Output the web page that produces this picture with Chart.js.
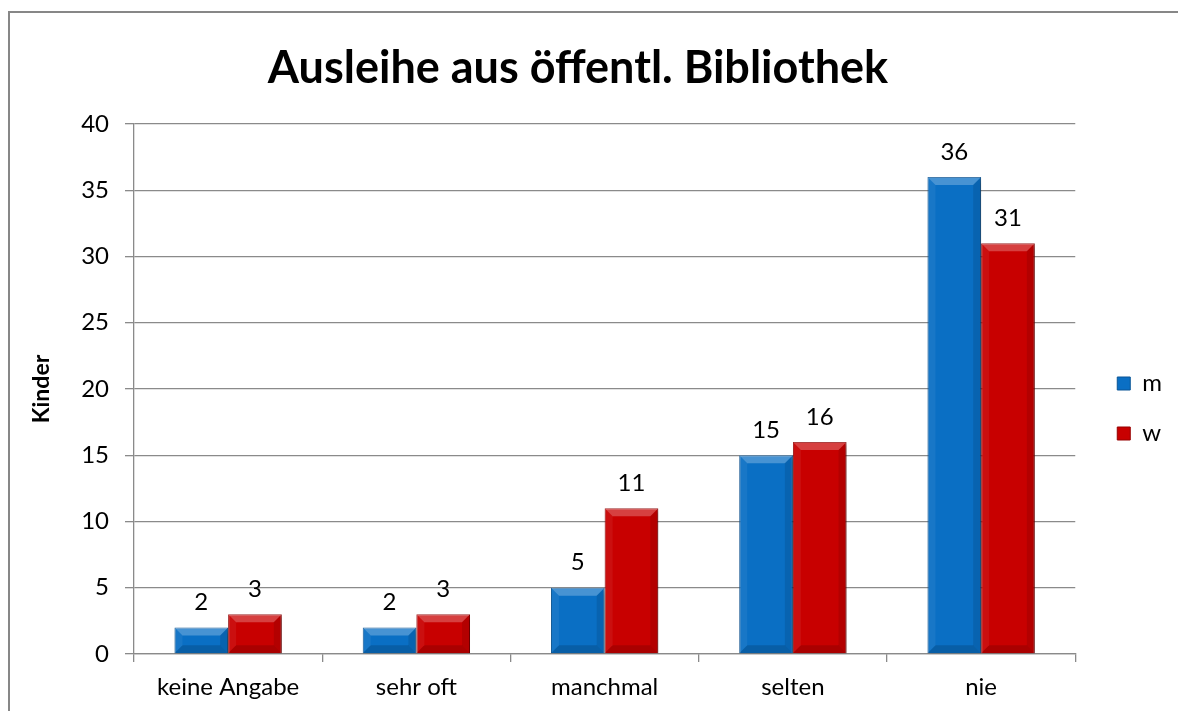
<!DOCTYPE html>
<html lang="de">
<head>
    <meta charset="UTF-8">
    <title>Ausleihe aus öffentl. Bibliothek</title>
    <script src="https://cdn.jsdelivr.net/npm/chart.js@4.4.0/dist/chart.umd.min.js"></script>
    <style>
        body {
            margin: 0;
            width: 1178px;
            height: 711px;
            overflow: hidden;
            background: #ffffff;
            position: relative;
        }
        .frame {
            position: absolute;
            left: 8px;
            top: 11px;
            width: 1300px;
            height: 900px;
            border: 2px solid #878787;
        }
        .chart-box {
            position: absolute;
            left: 0;
            top: 0;
            width: 1178px;
            height: 711px;
        }
    </style>
</head>
<body>
    <div class="frame"></div>
    <div class="chart-box"><canvas id="chart"></canvas></div>

    <script>
        // Data
        const categories = ['keine Angabe', 'sehr oft', 'manchmal', 'selten', 'nie'];
        const valuesM = [2, 2, 5, 15, 36];
        const valuesW = [3, 3, 11, 16, 31];
        const seriesNames = ['m', 'w'];
        const yTicks = [0, 5, 10, 15, 20, 25, 30, 35, 40];

        const FONT = 'Lato, "Open Sans", sans-serif';
        const GRID = '#8a8a8a';

        // bar shadow
        const shadowPlugin = {
            id: 'barShadow',
            beforeDatasetsDraw(chart) {
                const ctx = chart.ctx;
                ctx.save();
                ctx.shadowColor = 'rgba(0,0,0,0.35)';
                ctx.shadowBlur = 5;
                ctx.shadowOffsetX = 2;
                ctx.shadowOffsetY = 2;
            },
            afterDatasetsDraw(chart) {
                chart.ctx.restore();
            }
        };

        // bevel look + value labels
        const bevelPlugin = {
            id: 'bevel',
            afterDatasetsDraw(chart) {
                const ctx = chart.ctx;
                ctx.save();
                chart.data.datasets.forEach((ds, di) => {
                    const meta = chart.getDatasetMeta(di);
                    meta.data.forEach((bar, i) => {
                        const p = bar.getProps(['x', 'y', 'base', 'width'], true);
                        const l = p.x - p.width / 2, r = p.x + p.width / 2;
                        const t = p.y, b = p.base;
                        const bv = Math.min(8, (b - t) / 3);
                        const poly = (pts, fill) => {
                            ctx.beginPath();
                            ctx.moveTo(pts[0][0], pts[0][1]);
                            pts.slice(1).forEach(q => ctx.lineTo(q[0], q[1]));
                            ctx.closePath();
                            ctx.fillStyle = fill;
                            ctx.fill();
                        };
                        poly([[l, t], [r, t], [r - bv, t + bv], [l + bv, t + bv]], 'rgba(255,255,255,0.25)');
                        poly([[l, t], [l + bv, t + bv], [l + bv, b - bv], [l, b]], 'rgba(255,255,255,0.06)');
                        poly([[r, t], [r - bv, t + bv], [r - bv, b - bv], [r, b]], 'rgba(0,0,0,0.10)');
                        poly([[l, b], [l + bv, b - bv], [r - bv, b - bv], [r, b]], 'rgba(0,0,0,0.15)');

                        // value label
                        ctx.fillStyle = '#000';
                        ctx.font = '24px ' + FONT;
                        ctx.textAlign = 'center';
                        ctx.textBaseline = 'middle';
                        ctx.fillText(String(ds.data[i]), p.x, t - 25);
                    });
                });
                ctx.restore();
            }
        };

        // nudge the legend to the right and down
        const legendNudge = {
            id: 'legendNudge',
            afterLayout(chart) {
                chart.legend.left += 16;
                chart.legend.right += 16;
                chart.legend.top += 53;
                chart.legend.bottom += 53;
            }
        };

        new Chart(document.getElementById('chart'), {
            type: 'bar',
            data: {
                labels: categories,
                datasets: [
                    {
                        label: seriesNames[0],
                        data: valuesM,
                        backgroundColor: '#0a6fc4',
                        borderColor: '#0a5596',
                        borderWidth: 1
                    },
                    {
                        label: seriesNames[1],
                        data: valuesW,
                        backgroundColor: '#c80000',
                        borderColor: '#960000',
                        borderWidth: 1
                    }
                ]
            },
            options: {
                responsive: true,
                maintainAspectRatio: false,
                animation: false,
                layout: {
                    padding: { left: 0, top: 0, right: 22, bottom: 0 }
                },
                datasets: {
                    bar: {
                        categoryPercentage: 0.57,
                        barPercentage: 1.0
                    }
                },
                plugins: {
                    title: {
                        display: true,
                        text: 'Ausleihe aus öffentl. Bibliothek',
                        color: '#000',
                        font: { family: FONT, size: 45, weight: 'bold', lineHeight: 1.2 },
                        padding: { top: 41, bottom: 29 }
                    },
                    legend: {
                        position: 'right',
                        labels: {
                            color: '#000',
                            font: { family: FONT, size: 24 },
                            boxWidth: 13,
                            boxHeight: 13,
                            padding: 26
                        }
                    },
                    tooltip: { enabled: false }
                },
                scales: {
                    x: {
                        grid: {
                            offset: true,
                            drawOnChartArea: false,
                            tickLength: 8,
                            color: GRID,
                            lineWidth: 1.3
                        },
                        border: { color: GRID, width: 1.3 },
                        ticks: {
                            color: '#000',
                            font: { family: FONT, size: 24 },
                            padding: 11,
                            maxRotation: 0
                        },
                        afterFit(scale) { scale.height = 57; }
                    },
                    y: {
                        min: 0,
                        max: 40,
                        afterBuildTicks(scale) {
                            scale.ticks = yTicks.map(v => ({ value: v }));
                        },
                        grid: {
                            color: GRID,
                            lineWidth: 1.3,
                            tickLength: 9
                        },
                        border: { color: GRID, width: 1.3 },
                        ticks: {
                            color: '#000',
                            font: { family: FONT, size: 24 },
                            padding: 16
                        },
                        title: {
                            display: true,
                            text: 'Kinder',
                            color: '#000',
                            font: { family: FONT, size: 23, weight: 'bold' },
                            padding: { top: 28, bottom: 0 }
                        },
                        afterFit(scale) { scale.width = 134; }
                    }
                }
            },
            plugins: [shadowPlugin, bevelPlugin, legendNudge]
        });
    </script>
</body>
</html>
